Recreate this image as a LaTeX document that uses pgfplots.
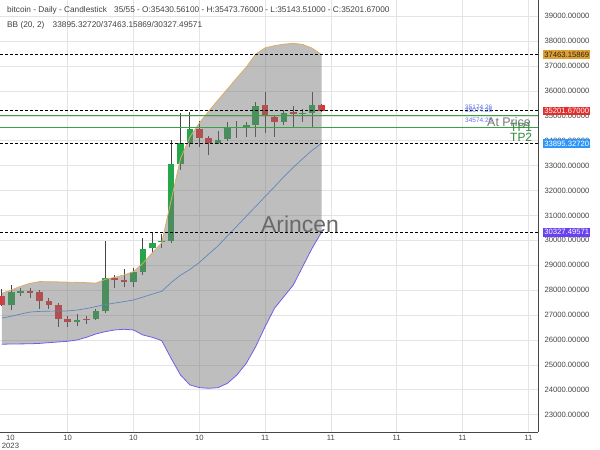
\documentclass[border=0pt]{standalone}
\usepackage{fontspec}
\setmainfont{Liberation Sans}
\usepackage{pgfplots}
\pgfplotsset{compat=1.18}
\usepackage{pgfplotstable}

\definecolor{upc}{RGB}{38,166,74}
\definecolor{dnc}{RGB}{232,48,48}
\definecolor{wick}{RGB}{70,70,70}
\definecolor{bandfill}{RGB}{116,116,116}
\definecolor{bbup}{RGB}{222,172,100}
\definecolor{bblo}{RGB}{110,95,235}
\definecolor{bbmid}{RGB}{95,135,190}
\definecolor{tpgreen}{RGB}{60,160,70}
\definecolor{gridc}{RGB}{228,228,228}
\definecolor{labc}{RGB}{70,70,70}
\definecolor{boxor}{RGB}{226,160,50}
\definecolor{boxred}{RGB}{226,45,45}
\definecolor{boxblue}{RGB}{45,150,250}
\definecolor{boxpur}{RGB}{105,65,240}
\definecolor{lvlblue}{RGB}{95,115,230}

\newcommand\lab{\fontsize{7.7}{8}\selectfont}
\newcommand\hdr{\fontsize{8.3}{9}\selectfont}

% candles: index, open, high, low, close
\pgfplotstableread{
x o h l c
1 27390 28190 27190 27910
2 27900 28085 27770 27950
8 26710 27060 26550 26820
10 26840 27245 26790 27150
11 27150 29970 27080 28500
14 28310 28900 28120 28710
15 28710 30090 28600 29640
16 29680 30280 29480 29910
17 29920 30240 29690 29990
18 29990 34050 29880 33060
19 33050 35120 32840 33900
20 33900 35140 33760 34480
23 33900 34400 33860 34050
24 34080 34740 33980 34540
25 34520 34800 34130 34550
26 34520 34740 34140 34650
27 34650 35570 34140 35400
30 34770 35240 34630 35100
32 35075 35280 34770 35110
33 35130 35970 34540 35430
}\upc

\pgfplotstableread{
x o h l c
0 27760 28050 27350 27400
3 27950 28100 27690 27900
4 27910 27990 27245 27580
5 27550 27670 27260 27390
6 27390 27485 26530 26850
7 26850 26950 26530 26710
9 26860 26950 26650 26830
12 28470 28620 28090 28390
13 28390 28840 28120 28340
21 34470 34810 33740 34130
22 34130 34210 33410 33900
28 35430 35970 34320 35000
29 34940 35040 34160 34770
31 35140 35400 34540 35075
34 35430.56 35473.76 35143.51 35201.67
}\dnc

\pgfplotsset{
  candle/.style={draw=none, no markers, forget plot,
    error bars/.cd, y dir=plus, y explicit, error mark=none,
    error bar style={draw=#1}},
}

\begin{document}
\begin{tikzpicture}
\useasboundingbox (0,0) rectangle (600bp,450bp);
\begin{axis}[
  at={(0bp,18bp)}, anchor=south west,
  scale only axis, width=538bp, height=432bp,
  xmin=-0.2, xmax=57.03, ymin=22301, ymax=39655,
  axis x line*=bottom, axis y line*=right,
  axis line style={draw=labc, line width=0.9bp},
  xtick={7,14,...,56},
  xticklabels={10,10,10,11,11,11,11,11},
  ytick={23000,24000,...,39000},
  scaled y ticks=false,
  grid=major, grid style={gridc, line width=0.6bp},
  major tick length=0pt,
  tick label style={font=\lab, text=labc},
  yticklabel style={anchor=west, xshift=3bp,
    /pgf/number format/fixed, /pgf/number format/fixed zerofill,
    /pgf/number format/precision=5, /pgf/number format/1000 sep={},
    /pgf/number format/assume math mode=true},
  clip=false,
]

% wicks
\addplot[candle={wick, line width=0.9bp}]
  table[x=x, y=l, y error expr=\thisrow{h}-\thisrow{l}] {\upc};
\addplot[candle={wick, line width=0.9bp}]
  table[x=x, y=l, y error expr=\thisrow{h}-\thisrow{l}] {\dnc};
% bodies
\addplot[candle={upc, line width=6.5bp}]
  table[x=x, y=o, y error expr=\thisrow{c}-\thisrow{o}] {\upc};
\addplot[candle={dnc, line width=6.5bp}]
  table[x=x, y=c, y error expr=\thisrow{o}-\thisrow{c}] {\dnc};

% Bollinger band (20, 2), upper then lower reversed
\addplot[draw=none, fill=bandfill, fill opacity=0.47] coordinates {
(0,27873) (1,28006) (2,28150) (3,28274) (4,28341) (5,28340) (6,28330) (7,28320)
(8,28310) (9,28300) (10,28280) (11,28435) (12,28515) (13,28609) (14,28743) (15,29078)
(16,29500) (17,29900) (18,31600) (19,33280) (20,34150) (21,34710) (22,35190) (23,35640)
(24,36080) (25,36530) (26,36960) (27,37480) (28,37730) (29,37820) (30,37880) (31,37915)
(32,37870) (33,37720) (34,37463)
(34,30327) (33,29681) (32,28945) (31,28208) (30,27740) (29,27271) (28,26534) (27,25730)
(26,25061) (25,24593) (24,24258) (23,24084) (22,24057) (21,24084) (20,24191) (19,24593)
(18,25262) (17,25972) (16,26105) (15,26199) (14,26400) (13,26427) (12,26400) (11,26333)
(10,26239) (9,26105) (8,25998) (7,25945) (6,25918) (5,25891) (4,25860) (3,25845)
(2,25840) (1,25838) (0,25824)
};
\addplot[bbup, line width=0.8bp] coordinates {
(0,27873) (1,28006) (2,28150) (3,28274) (4,28341) (5,28340) (6,28330) (7,28320)
(8,28310) (9,28300) (10,28280) (11,28435) (12,28515) (13,28609) (14,28743) (15,29078)
(16,29500) (17,29900) (18,31600) (19,33280) (20,34150) (21,34710) (22,35190) (23,35640)
(24,36080) (25,36530) (26,36960) (27,37480) (28,37730) (29,37820) (30,37880) (31,37915)
(32,37870) (33,37720) (34,37463)
};
\addplot[bblo, line width=0.8bp] coordinates {
(0,25824) (1,25838) (2,25840) (3,25845) (4,25860) (5,25891) (6,25918) (7,25945)
(8,25998) (9,26105) (10,26239) (11,26333) (12,26400) (13,26427) (14,26400) (15,26199)
(16,26105) (17,25972) (18,25262) (19,24593) (20,24191) (21,24084) (22,24057) (23,24084)
(24,24258) (25,24593) (26,25061) (27,25730) (28,26534) (29,27271) (30,27740) (31,28208)
(32,28945) (33,29681) (34,30327)
};
\addplot[bbmid, line width=0.7bp] coordinates {
(0,26880) (1,26950) (2,27040) (3,27120) (4,27145) (5,27155) (6,27160) (7,27165)
(8,27200) (9,27260) (10,27340) (11,27420) (12,27480) (13,27540) (14,27604) (15,27720)
(16,27840) (17,27950) (18,28300) (19,28600) (20,28830) (21,29110) (22,29450) (23,29780)
(24,30180) (25,30570) (26,30970) (27,31360) (28,31760) (29,32150) (30,32560) (31,32930)
(32,33280) (33,33620) (34,33895)
};

% level lines
\addplot[black, line width=0.8bp, dash pattern=on 2.5bp off 2.5bp] coordinates {(-0.2,37463.16) (57.03,37463.16)};
\addplot[black, line width=0.8bp, dash pattern=on 2.5bp off 2.5bp] coordinates {(-0.2,35201.67) (57.03,35201.67)};
\addplot[black, line width=0.8bp, dash pattern=on 2.5bp off 2.5bp] coordinates {(-0.2,33895.33) (57.03,33895.33)};
\addplot[black, line width=0.8bp, dash pattern=on 2.5bp off 2.5bp] coordinates {(-0.2,30327.50) (57.03,30327.50)};
\addplot[tpgreen, line width=1bp] coordinates {(-0.2,34995) (57.03,34995)};
\addplot[tpgreen, line width=1bp] coordinates {(-0.2,34541) (57.03,34541)};

\coordinate (cU) at (axis cs:57.03,37463.16);
\coordinate (cC) at (axis cs:57.03,35201.67);
\coordinate (cM) at (axis cs:57.03,33895.33);
\coordinate (cL) at (axis cs:57.03,30327.50);
\end{axis}

\begin{scope}[every node/.style={anchor=west, font=\lab, inner xsep=1.2bp, inner ysep=1.6bp}]
\node[fill=boxor, text=black!85] at ([xshift=5bp]cU) {37463.15869};
\node[fill=boxred, text=white] at ([xshift=5bp]cC) {35201.67000};
\node[fill=boxblue, text=white] at ([xshift=5bp]cM) {33895.32720};
\node[fill=boxpur, text=white] at ([xshift=5bp]cL) {30327.49571};
\end{scope}

\node[anchor=north, font=\lab, text=labc, align=center] at (10.5bp,18bp) {10\\2023};

\node[anchor=west, font=\hdr, text=black!75, inner sep=0] at (7bp,440bp)
  {bitcoin - Daily - Candlestick\hspace{5bp} 35/55 - O:35430.56100 - H:35473.76000 - L:35143.51000 - C:35201.67000};
\node[anchor=west, font=\hdr, text=black!75, inner sep=0] at (7bp,425bp)
  {BB (20, 2)\hspace{6bp} 33895.32720/37463.15869/30327.49571};

\node[font=\fontsize{23}{24}\selectfont, text={rgb,255:red,105;green,105;blue,105}] at (300bp,226bp) {Arincen};

\begin{scope}[every node/.style={anchor=west, inner sep=0}]
\node[font=\fontsize{6.5}{7}\selectfont, text=lvlblue] at (465bp,342.3bp) {35174.26};
\node[font=\fontsize{6.5}{7}\selectfont, text=lvlblue] at (465bp,339.3bp) {35074.26};
\node[font=\fontsize{6.5}{7}\selectfont, text=lvlblue] at (465bp,329.3bp) {34574.26};
\node[font=\fontsize{12.5}{13}\selectfont, text={rgb,255:red,120;green,120;blue,120}] at (487bp,328bp) {At Price};
\node[font=\fontsize{12}{13}\selectfont, text=tpgreen!85!black] at (510bp,322.7bp) {TP1};
\node[font=\fontsize{12}{13}\selectfont, text=tpgreen!85!black] at (510bp,312.7bp) {TP2};
\end{scope}
\end{tikzpicture}
\end{document}
